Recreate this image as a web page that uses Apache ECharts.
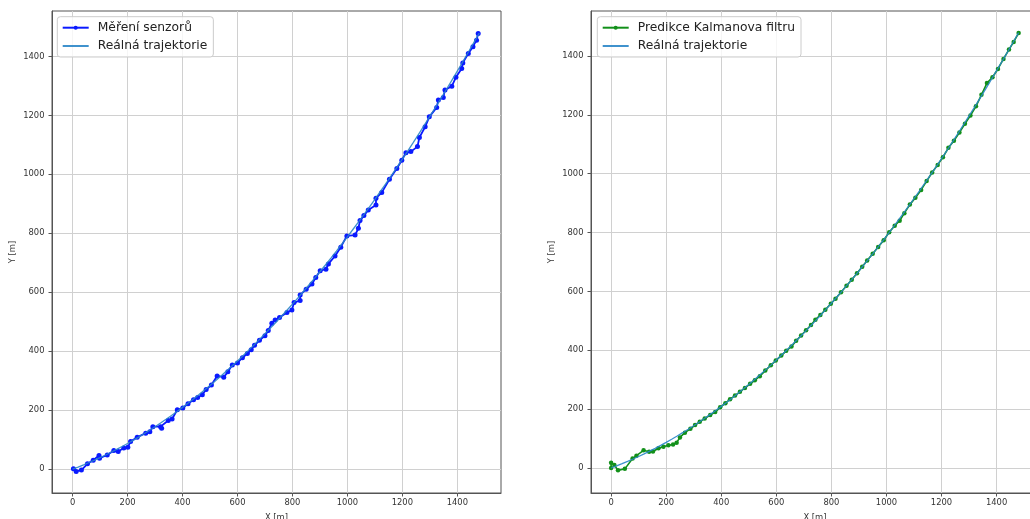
<!DOCTYPE html>
<html><head><meta charset="utf-8">
<script src="https://cdn.jsdelivr.net/npm/echarts@6/dist/echarts.min.js"></script>
<style>html,body{margin:0;padding:0;background:#fff}#c{width:1030px;height:519px}</style>
</head><body><div id="c"></div><script>
const trueX = [0,20,40,60,80,100,120,140,160,180,200,220,240,260,280,300,320,340,360,380,400,420,440,460,480,500,520,540,560,580,600,620,640,660,680,700,720,740,760,780,800,820,840,860,880,900,920,940,960,980,1000,1020,1040,1060,1080,1100,1120,1140,1160,1180,1200,1220,1240,1260,1280,1300,1320,1340,1360,1380,1400,1420,1440,1460,1480];
const trueY = [0,7.1,14.6,22.4,30.6,39.1,48.0,57.2,66.8,76.7,87.0,97.7,108.7,120.0,131.7,143.8,156.2,169.0,182.1,195.5,209.4,223.5,238.1,252.9,268.2,283.8,299.7,316.0,332.6,349.6,367.0,384.7,402.7,421.1,439.9,459.0,478.5,498.3,518.4,539.0,559.8,581.1,602.6,624.6,646.9,669.5,692.5,715.9,739.6,763.6,788.0,812.8,837.9,863.3,889.1,915.3,941.8,968.7,995.9,1023.5,1051.4,1079.7,1108.4,1137.4,1166.7,1196.4,1226.4,1256.8,1287.6,1318.7,1350.2,1382.0,1414.1,1446.7,1479.5];
const measX = [3,13,32,54,75,96,98,126,150,166,186,201,211,235,266,281,292,320,324,348,362,381,401,420,440,455,472,486,505,526,550,565,581,600,618,636,650,662,680,700,712,725,737,753,780,798,806,828,828,850,871,885,901,922,931,955,976,998,1028,1040,1046,1060,1076,1104,1104,1125,1153,1180,1198,1213,1231,1255,1262,1283,1298,1325,1331,1349,1355,1380,1395,1416,1420,1440,1457,1470,1476];
const measY = [1,-8,-3,18,30,46,37,48,63,60,72,74,94,108,122,127,144,144,139,165,170,201,207,222,235,243,252,270,285,316,312,330,353,360,378,392,405,420,437,452,470,495,506,514,531,540,565,572,591,610,628,650,673,678,696,723,753,791,794,817,843,860,879,896,919,938,983,1020,1048,1073,1077,1094,1125,1161,1195,1227,1252,1261,1286,1299,1329,1359,1378,1410,1433,1455,1478];
const kalX = [0,0,12,25,50,78,92,118,138,152,172,190,208,225,238,250,268,288,305,322,340,360,378,396,415,432,450,468,486,505,522,540,560,580,598,618,636,655,672,690,708,726,742,760,778,798,815,835,855,874,893,912,930,950,970,990,1010,1030,1048,1065,1085,1105,1126,1146,1166,1186,1205,1225,1245,1265,1285,1305,1325,1345,1365,1385,1405,1425,1445,1462,1480];
const kalY = [0,18,10,-8,-3,32,42,60,55,56,67,72,77,80,86,104,120,133,146,157,168,180,190,206,220,234,246,259,272,286,298,312,331,349,365,382,398,413,432,450,468,486,504,520,538,558,575,597,619,640,662,684,705,728,751,774,801,823,840,866,895,918,945,975,1004,1030,1056,1088,1112,1140,1170,1198,1229,1268,1308,1328,1356,1390,1422,1448,1478];
const tickVals = [0,200,400,600,800,1000,1200,1400];
const names = {meas:'Měření senzorů', kal:'Predikce Kalmanova filtru', real:'Reálná trajektorie'};
const zip = (a,b)=>a.map((v,i)=>[v,b[i]]);

const FONT = 'DejaVu Sans';
const fmt = v => String(Math.round(v));
function xAxisDef(idx, min, max){
  return {type:'value', gridIndex:idx, min:min, max:max,
    name:'X [m]', nameLocation:'middle', nameGap:21,
    nameTextStyle:{fontFamily:FONT, fontSize:8.4, color:'#333'},
    axisLine:{show:true, onZero:false, lineStyle:{color:'#555', width:1}},
    axisTick:{show:true, length:3.5, customValues:tickVals, lineStyle:{color:'#555'}},
    axisLabel:{customValues:tickVals, formatter:fmt, fontFamily:FONT, fontSize:8.4, color:'#333', margin:6},
    splitLine:{show:true, lineStyle:{color:'#d0d0d0', width:1}}};
}
function yAxisDef(idx, min, max){
  return {type:'value', gridIndex:idx, min:min, max:max,
    name:'Y [m]', nameLocation:'middle', nameGap:35,
    nameTextStyle:{fontFamily:FONT, fontSize:8.4, color:'#333'},
    axisLine:{show:true, onZero:false, lineStyle:{color:'#555', width:1}},
    axisTick:{show:true, length:3.5, customValues:tickVals, lineStyle:{color:'#555'}},
    axisLabel:{customValues:tickVals, formatter:fmt, fontFamily:FONT, fontSize:8.4, color:'#333', margin:7.5},
    splitLine:{show:true, lineStyle:{color:'#d0d0d0', width:1}}};
}
function legendDef(left, items){
  return {orient:'vertical', left:left, top:16.7, itemWidth:26, itemHeight:5, itemGap:4.3,
    padding:[4,6,4,4.4], backgroundColor:'rgba(255,255,255,0.8)', borderColor:'#cccccc', borderWidth:1, borderRadius:3,
    textStyle:{fontFamily:FONT, fontSize:12.3, color:'#222', lineHeight:14, padding:[0,0,0,4]},
    data:items};
}
const chart = echarts.init(document.getElementById('c'), null, {renderer:'canvas'});
chart.setOption({
  animation:false,
  backgroundColor:'#fff',
  grid:[
    {left:52, top:11, width:449, height:482, containLabel:false, outerBoundsMode:'none', show:true, borderColor:'#555', borderWidth:1, backgroundColor:'transparent'},
    {left:591, top:11, width:448, height:482, containLabel:false, outerBoundsMode:'none', show:true, borderColor:'#555', borderWidth:1, backgroundColor:'transparent'}
  ],
  xAxis:[xAxisDef(0,-75,1559), xAxisDef(1,-73,1554)],
  yAxis:[yAxisDef(0,-81,1554), yAxisDef(1,-85,1553)],
  legend:[
    legendDef(57.3, [{name:names.meas}, {name:names.real, itemStyle:{opacity:0}}]),
    legendDef(597.3, [{name:names.kal}, {name:names.real, itemStyle:{opacity:0}}])
  ],
  series:[
    {type:'line', name:names.meas, xAxisIndex:0, yAxisIndex:0, data:zip(measX,measY),
      symbol:'circle', symbolSize:5, showSymbol:true, color:'#0000ff',
      lineStyle:{color:'#0a1aff', width:1.8}, itemStyle:{color:'#0a1aff'}, z:2},
    {type:'line', name:names.real, xAxisIndex:0, yAxisIndex:0, data:zip(trueX,trueY),
      symbol:'none', color:'#1f77b4', lineStyle:{color:'#2a86c8', width:1.3, opacity:0.9}, z:3},
    {type:'line', name:names.kal, xAxisIndex:1, yAxisIndex:1, data:zip(kalX,kalY),
      symbol:'circle', symbolSize:4.5, showSymbol:true, color:'#008000',
      lineStyle:{color:'#12901a', width:1.6}, itemStyle:{color:'#12901a'}, z:2},
    {type:'line', name:names.real, xAxisIndex:1, yAxisIndex:1, data:zip(trueX,trueY),
      symbol:'none', color:'#1f77b4', lineStyle:{color:'#2a86c8', width:1.3, opacity:0.9}, z:3}
  ]
});
</script></body></html>
